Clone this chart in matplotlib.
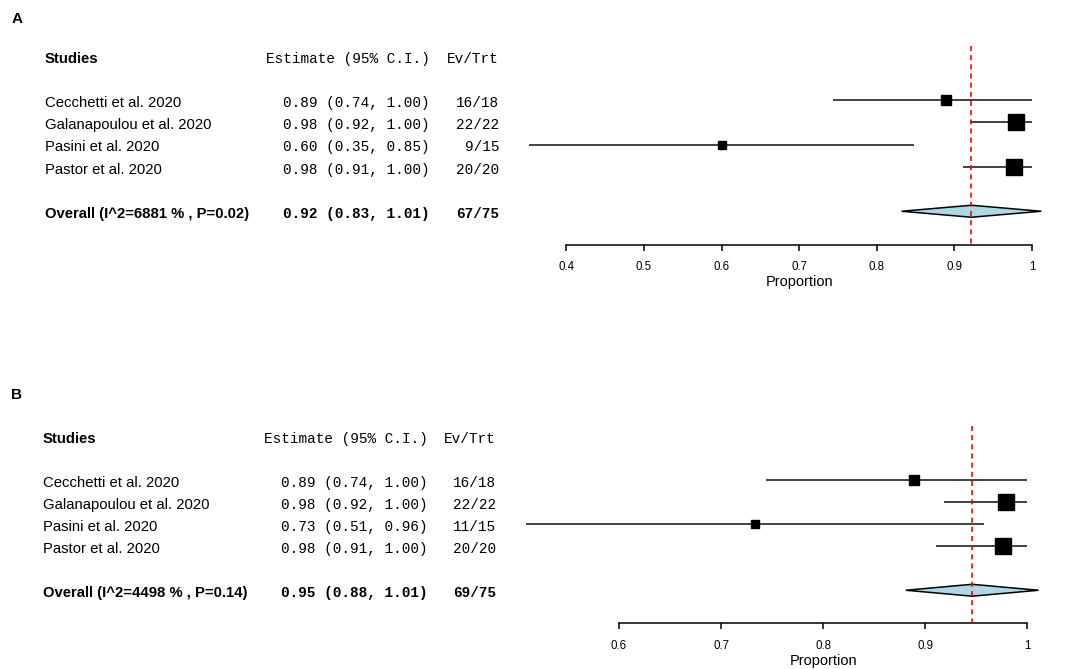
import matplotlib
matplotlib.use("Agg")
import matplotlib.pyplot as plt
from matplotlib.transforms import blended_transform_factory
from matplotlib.patches import Polygon

W, H = 1084, 669

studies = ["Cecchetti et al. 2020", "Galanapoulou et al. 2020",
           "Pasini et al. 2020", "Pastor et al. 2020"]

# Panel A
a_est = [0.889, 0.979, 0.600, 0.977]
a_lo = [0.744, 0.920, 0.352, 0.911]
a_hi = [1.000, 1.000, 0.848, 1.000]
a_evtrt = ["16/18", "22/22", "9/15", "20/20"]
a_sq = [7.2, 12.2, 5.4, 11.6]
a_overall = (0.922, 0.832, 1.012)
a_overall_lbl = "Overall (I^2=6881 % , P=0.02)"
a_overall_ev = "67/75"
a_ticks = [0.4, 0.5, 0.6, 0.7, 0.8, 0.9, 1.0]
a_ticklabels = ["0.4", "0.5", "0.6", "0.7", "0.8", "0.9", "1"]

# Panel B
b_est = [0.889, 0.979, 0.733, 0.976]
b_lo = [0.744, 0.918, 0.509, 0.911]
b_hi = [1.000, 1.000, 0.958, 1.000]
b_evtrt = ["16/18", "22/22", "11/15", "20/20"]
b_sq = [7.2, 12.2, 5.8, 12.0]
b_overall = (0.946, 0.881, 1.011)
b_overall_lbl = "Overall (I^2=4498 % , P=0.14)"
b_overall_ev = "69/75"
b_ticks = [0.6, 0.7, 0.8, 0.9, 1.0]
b_ticklabels = ["0.6", "0.7", "0.8", "0.9", "1"]

SANS = "Liberation Sans"
MONO = "Liberation Mono"
BL = 0.31  # baseline offset (rows) for text

fig = plt.figure(figsize=(W / 100, H / 100), dpi=100)


def panel(letter, letter_y, ax_left, ax_right, ax_top, ax_bottom,
          x_name, x_est, x_ev, est, lo, hi, ev, sq, overall, olbl, oev,
          ticks, ticklabels):
    ax = fig.add_axes([ax_left / W, 1 - ax_bottom / H,
                       (ax_right - ax_left) / W, (ax_bottom - ax_top) / H])
    ax.set_xlim(ticks[0], ticks[-1])
    ax.set_ylim(7.5, -1.5)
    for s in ["top", "left", "right"]:
        ax.spines[s].set_visible(False)
    ax.spines["bottom"].set_linewidth(1.1)
    ax.set_yticks([])
    ax.set_xticks(ticks)
    ax.set_xticklabels(ticklabels, fontfamily=SANS, fontsize=8.3)
    ax.tick_params(axis="x", length=4.5, width=1.1, pad=7.5)
    ax.set_xlabel("Proportion", fontfamily=SANS, fontsize=10.5, labelpad=1.5)

    rows = [1, 2, 3, 4]
    for r, e, l, h, s in zip(rows, est, lo, hi, sq):
        ax.plot([l, h], [r, r], color="#333333", lw=1.3, clip_on=False,
                solid_capstyle="butt")
        ax.plot([e], [r], marker="s", ms=s, color="black", clip_on=False)
    oe, ol, oh = overall
    dia = Polygon([[ol, 6], [oe, 5.73], [oh, 6], [oe, 6.27]], closed=True,
                  facecolor="lightblue", edgecolor="black", lw=1.1,
                  clip_on=False, zorder=3)
    ax.add_patch(dia)
    ax.plot([oe, oe], [-1.45, 7.5], color="red", lw=1.2, ls=(0, (3, 2.5)),
            clip_on=False, zorder=4)

    tr = blended_transform_factory(fig.transFigure, ax.transData)
    fig.text(17 / W, 1 - letter_y / H, letter, fontfamily=SANS,
             fontweight="bold", fontsize=11, ha="center", va="center")
    ax.text(x_name / W, -1 + BL, "Studies", transform=tr, fontfamily=SANS,
            fontweight="bold", fontsize=10.7, ha="left", va="baseline")
    ax.text(x_est / W, -1 + BL, "Estimate (95% C.I.)", transform=tr,
            fontfamily=MONO, fontsize=10.4, ha="right", va="baseline")
    ax.text(x_ev / W, -1 + BL, "Ev/Trt", transform=tr,
            fontfamily=MONO, fontsize=10.4, ha="right", va="baseline")
    for r, name, e, l, h, evt in zip(rows, studies, est, lo, hi, ev):
        ax.text(x_name / W, r + BL, name, transform=tr, fontfamily=SANS,
                fontsize=10.7, ha="left", va="baseline")
        ax.text(x_est / W, r + BL, "%.2f (%.2f, %.2f)" % (e, l, h),
                transform=tr, fontfamily=MONO, fontsize=10.4,
                ha="right", va="baseline")
        ax.text(x_ev / W, r + BL, evt, transform=tr,
                fontfamily=MONO, fontsize=10.4, ha="right", va="baseline")
    ax.text(x_name / W, 6 + BL, olbl, transform=tr, fontfamily=SANS,
            fontweight="bold", fontsize=10.7, ha="left", va="baseline")
    ax.text(x_est / W, 6 + BL, "%.2f (%.2f, %.2f)" % overall, transform=tr,
            fontfamily=MONO, fontweight="bold", fontsize=10.4,
            ha="right", va="baseline")
    ax.text(x_ev / W, 6 + BL, oev, transform=tr, fontfamily=MONO,
            fontweight="bold", fontsize=10.4, ha="right", va="baseline")
    return ax


panel("A", 19, 566.3, 1032, 44.5, 244.6, 45, 430, 499,
      a_est, a_lo, a_hi, a_evtrt, a_sq, a_overall, a_overall_lbl,
      a_overall_ev, a_ticks, a_ticklabels)
panel("B", 395, 619, 1027.3, 425, 623.3, 43, 428, 496,
      b_est, b_lo, b_hi, b_evtrt, b_sq, b_overall, b_overall_lbl,
      b_overall_ev, b_ticks, b_ticklabels)

fig.savefig("out.png", dpi=100)
